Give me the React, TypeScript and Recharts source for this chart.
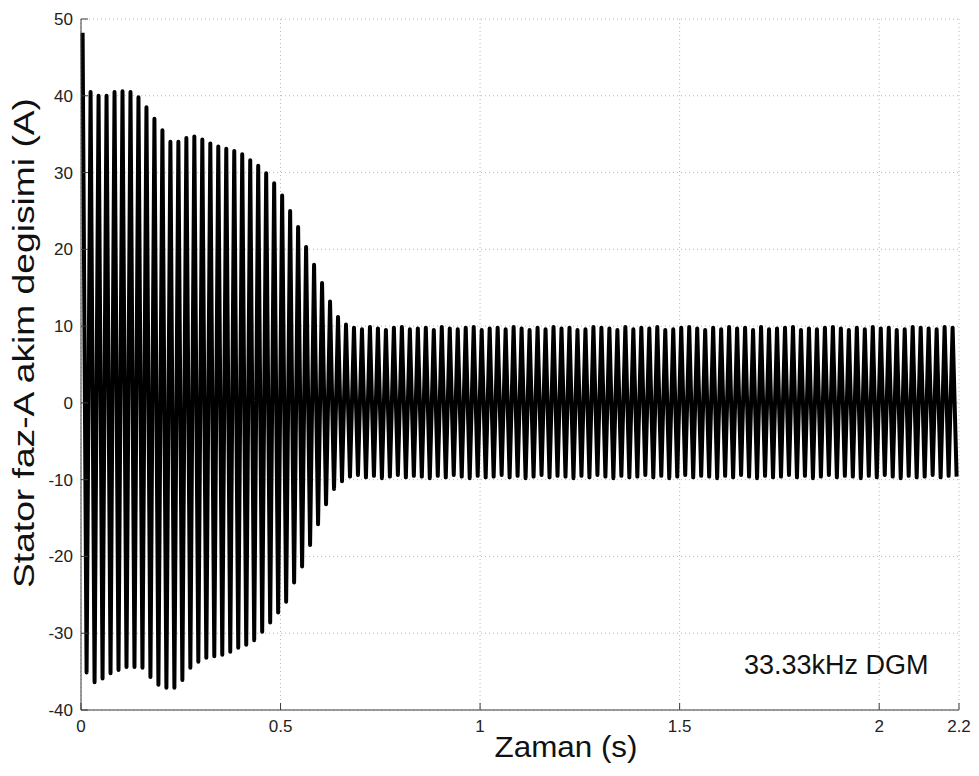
import React from "react";
import { LineChart, Line, XAxis, YAxis, CartesianGrid, Label } from "recharts";

// Sampling grid: 50 Hz current, one peak and one trough per 20 ms cycle
const FIRST_PEAK_TIME = 0.004; // s
const HALF_CYCLE = 0.01; // s

// Positive peak of each cycle (A)
const upperPeaks: number[] = [
  48.2, 40.5, 40.0, 40.0, 40.5, 40.6, 40.5, 39.8, 38.5, 37.0,
  35.5, 34.0, 34.0, 34.5, 34.7, 34.3, 33.8, 33.4, 33.1, 32.8,
  32.4, 31.6, 30.9, 29.9, 28.6, 27.0, 25.0, 22.9, 20.3, 18.0,
  15.6, 13.2, 11.2, 10.2,
  9.8, 9.6, 9.9, 9.7, 9.5, 9.8, 9.9, 9.6, 9.7, 9.8,
  9.5, 9.9, 9.7, 9.6, 9.8, 9.9, 9.5, 9.7, 9.8, 9.6,
  9.9, 9.7, 9.5, 9.8, 9.6, 9.9, 9.7, 9.8, 9.5, 9.6,
  9.9, 9.8, 9.7, 9.5, 9.9, 9.6, 9.8, 9.7, 9.9, 9.5,
  9.6, 9.8, 9.9, 9.7, 9.5, 9.8, 9.6, 9.9, 9.7, 9.8,
  9.5, 9.9, 9.6, 9.7, 9.8, 9.9, 9.5, 9.7, 9.6, 9.8,
  9.9, 9.7, 9.5, 9.8, 9.6, 9.9, 9.7, 9.8, 9.5, 9.6,
  9.9, 9.8, 9.7, 9.6, 9.9, 9.8,
];

// Negative peak of each cycle (A)
const lowerPeaks: number[] = [
  -35.1, -36.4, -35.9, -35.2, -34.8, -34.4, -34.4, -34.5, -35.7, -36.7,
  -37.1, -37.1, -36.1, -34.5, -33.7, -33.2, -33.0, -32.8, -32.4, -31.9,
  -31.5, -30.9, -29.8, -28.6, -27.3, -25.9, -23.4, -21.3, -18.5, -15.8,
  -13.2, -11.2, -10.2,
  -9.6, -9.4, -9.7, -9.5, -9.8, -9.6, -9.4, -9.7, -9.5, -9.6,
  -9.8, -9.5, -9.7, -9.4, -9.6, -9.8, -9.5, -9.7, -9.6, -9.4,
  -9.7, -9.5, -9.8, -9.6, -9.4, -9.7, -9.5, -9.6, -9.8, -9.5,
  -9.7, -9.4, -9.6, -9.8, -9.5, -9.7, -9.6, -9.4, -9.7, -9.5,
  -9.8, -9.6, -9.4, -9.7, -9.5, -9.6, -9.8, -9.5, -9.7, -9.4,
  -9.6, -9.8, -9.5, -9.7, -9.6, -9.4, -9.7, -9.5, -9.8, -9.6,
  -9.4, -9.7, -9.5, -9.6, -9.8, -9.5, -9.7, -9.4, -9.6, -9.8,
  -9.5, -9.7, -9.6, -9.4, -9.7, -9.5, -9.6,
];

const xTicks = [0, 0.5, 1, 1.5, 2, 2.2];
const yTicks = [-40, -30, -20, -10, 0, 10, 20, 30, 40, 50];

const xLabel = "Zaman (s)";
const yLabel = "Stator faz-A akim degisimi (A)";
const note = "33.33kHz DGM";

const data: { t: number; i: number }[] = [];
for (let k = 0; k < upperPeaks.length; k++) {
  data.push({ t: +(FIRST_PEAK_TIME + 2 * k * HALF_CYCLE).toFixed(4), i: upperPeaks[k] });
  if (k < lowerPeaks.length) {
    data.push({ t: +(FIRST_PEAK_TIME + (2 * k + 1) * HALF_CYCLE).toFixed(4), i: lowerPeaks[k] });
  }
}

const FONT = "'Liberation Sans', Arial, Helvetica, sans-serif";
const AXIS = "#3a3a3a";
const TICK_LEN = 7;
const MARGIN = 8;

const BottomTick = (props: any) => {
  const { x, y, payload } = props;
  const axisY = y - MARGIN;
  return (
    <g>
      <line x1={x} x2={x} y1={axisY} y2={axisY - TICK_LEN} stroke={AXIS} strokeWidth={1} />
      <text x={x} y={y + 2} dy="0.71em" textAnchor="middle" fontSize={17} fill="#222" fontFamily={FONT}>
        {String(payload.value)}
      </text>
    </g>
  );
};

const LeftTick = (props: any) => {
  const { x, y, payload } = props;
  const axisX = x + MARGIN;
  return (
    <g>
      <line x1={axisX} x2={axisX + TICK_LEN} y1={y} y2={y} stroke={AXIS} strokeWidth={1} />
      <text x={x} y={y} dy="0.355em" textAnchor="end" fontSize={17} fill="#222" fontFamily={FONT}>
        {String(payload.value)}
      </text>
    </g>
  );
};

const TopTick = (props: any) => {
  const { x, y } = props;
  return <line x1={x} x2={x} y1={y} y2={y + TICK_LEN} stroke={AXIS} strokeWidth={1} />;
};

const RightTick = (props: any) => {
  const { x, y } = props;
  return <line x1={x} x2={x - TICK_LEN} y1={y} y2={y} stroke={AXIS} strokeWidth={1} />;
};

const Texts = () => (
  <g fontFamily={FONT} fill="#111">
    <text x={566} y={757} textAnchor="middle" fontSize={30} textLength={143} lengthAdjust="spacingAndGlyphs">
      {xLabel}
    </text>
    <text
      transform="rotate(-90)"
      x={-343}
      y={34}
      textAnchor="middle"
      fontSize={29}
      textLength={490}
      lengthAdjust="spacingAndGlyphs"
    >
      {yLabel}
    </text>
    <text x={744} y={674} fontSize={27}>
      {note}
    </text>
  </g>
);

export default function App() {
  return (
    <div style={{ position: "absolute", left: 0, top: 0, width: 979, height: 776, background: "#fff" }}>
      <LineChart
        width={979}
        height={776}
        data={data}
        margin={{ top: 19, right: 20, bottom: 0, left: 0 }}
      >
        <CartesianGrid stroke="#b8b8b8" strokeDasharray="1 3" />
        <XAxis
          dataKey="t"
          type="number"
          domain={[0, 2.2]}
          ticks={xTicks}
          interval={0}
          height={66}
          tickSize={0}
          tickMargin={MARGIN}
          axisLine={{ stroke: AXIS }}
          tick={BottomTick}
        >
          <Label content={() => <Texts />} />
        </XAxis>
        <XAxis
          xAxisId="top"
          orientation="top"
          dataKey="t"
          type="number"
          domain={[0, 2.2]}
          ticks={xTicks}
          interval={0}
          height={0}
          tickSize={0}
          tickMargin={0}
          axisLine={{ stroke: AXIS }}
          tick={TopTick}
        />
        <YAxis
          type="number"
          domain={[-40, 50]}
          ticks={yTicks}
          interval={0}
          width={81}
          tickSize={0}
          tickMargin={MARGIN}
          axisLine={{ stroke: AXIS }}
          tick={LeftTick}
        />
        <YAxis
          yAxisId="right"
          orientation="right"
          type="number"
          domain={[-40, 50]}
          ticks={yTicks}
          interval={0}
          width={0}
          tickSize={0}
          tickMargin={0}
          axisLine={{ stroke: AXIS }}
          tick={RightTick}
        />
        <Line
          type="linear"
          dataKey="i"
          stroke="#000"
          strokeWidth={4}
          strokeLinejoin="round"
          dot={false}
          isAnimationActive={false}
        />
      </LineChart>
    </div>
  );
}
